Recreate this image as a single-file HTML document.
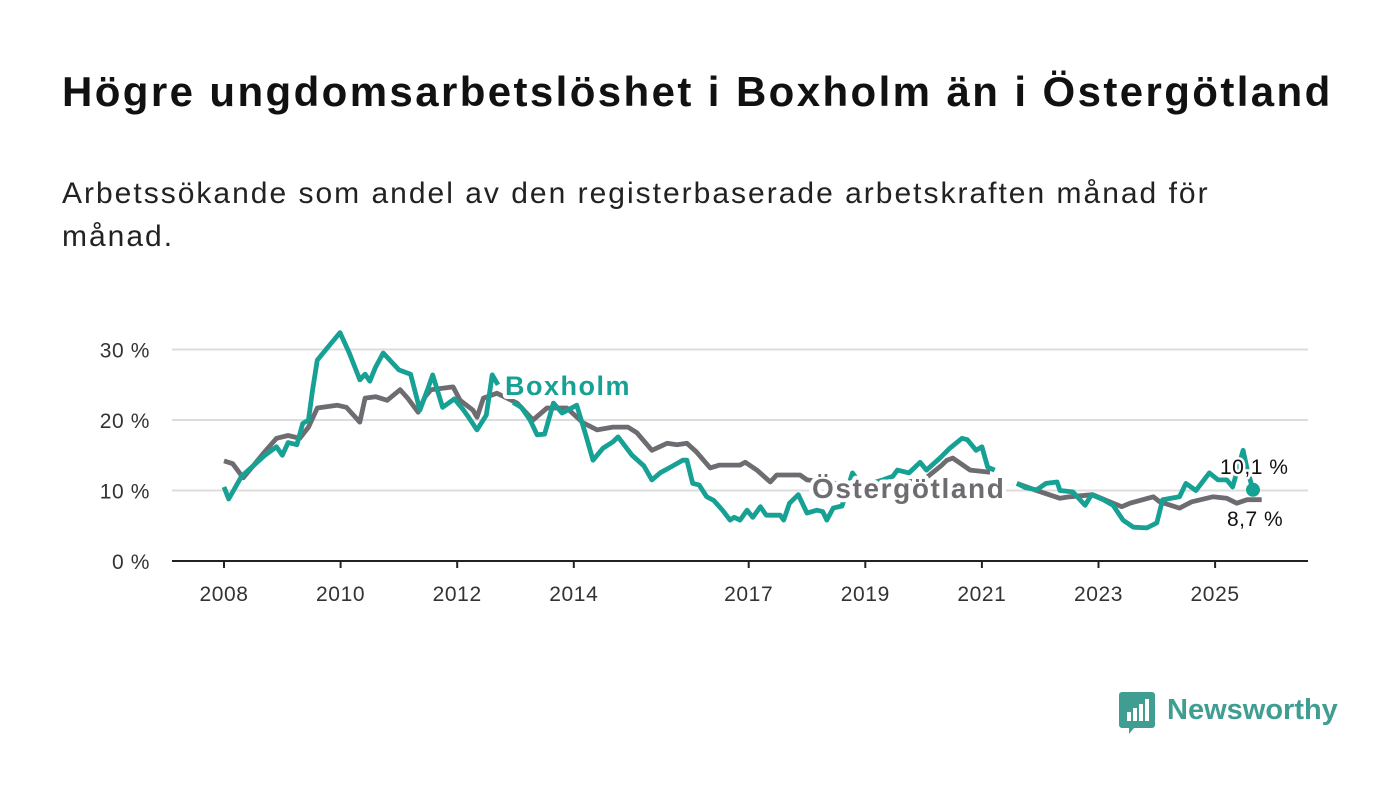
<!DOCTYPE html>
<html><head><meta charset="utf-8"><style>
body{margin:0;background:#fff;width:1400px;height:794px;overflow:hidden;font-family:"Liberation Sans",sans-serif}
#title{position:absolute;left:62px;top:68px;font-size:42px;font-weight:bold;color:#111;margin:0;letter-spacing:2.4px;white-space:nowrap}
#sub{position:absolute;left:62px;top:172px;font-size:30px;color:#222;line-height:43px;width:1190px;letter-spacing:2px}
svg{position:absolute;left:0;top:0}
</style></head><body>
<h1 id="title">Högre ungdomsarbetslöshet i Boxholm än i Östergötland</h1>
<div id="sub">Arbetssökande som andel av den registerbaserade arbetskraften månad för månad.</div>
<svg id="chart" width="1400" height="794"></svg>
<script>
const yTicks=[0,10,20,30];
const yTickLabels=["0 %","10 %","20 %","30 %"];
const xTicks=[2008,2010,2012,2014,2017,2019,2021,2023,2025];
const boxT=[2008.0,2008.08,2008.3,2008.5,2008.7,2008.9,2009.0,2009.1,2009.25,2009.35,2009.45,2009.52,2009.6,2009.75,2009.9,2009.99,2010.15,2010.33,2010.42,2010.5,2010.6,2010.73,2010.9,2011.0,2011.2,2011.36,2011.5,2011.58,2011.75,2011.95,2012.1,2012.17,2012.34,2012.5,2012.6,2012.7];
const boxV=[10.5,8.8,12,13.5,15,16.2,15,16.8,16.5,19.5,20,24.3,28.5,30,31.5,32.4,29.5,25.7,26.5,25.5,27.5,29.5,28,27.1,26.5,21.4,24.5,26.4,21.8,23,21.5,20.7,18.6,20.7,26.4,25];
const boxT2=[2012.96,2013.1,2013.25,2013.37,2013.5,2013.65,2013.8,2014.05,2014.2,2014.33,2014.5,2014.67,2014.76,2015.0,2015.2,2015.34,2015.48,2015.7,2015.87,2015.94,2016.04,2016.15,2016.28,2016.4,2016.55,2016.68,2016.75,2016.85,2016.97,2017.07,2017.2,2017.3,2017.54,2017.6,2017.7,2017.85,2018.0,2018.17,2018.27,2018.34,2018.45,2018.6,2018.78,2018.95,2019.1,2019.3,2019.47,2019.55,2019.75,2019.94,2020.05,2020.28,2020.45,2020.66,2020.75,2020.9,2021.0,2021.1,2021.22];
const boxV2=[22.5,21.8,20,17.9,18,22.4,21,22.1,18,14.3,16,16.9,17.6,15,13.5,11.5,12.5,13.5,14.3,14.3,11,10.8,9.1,8.6,7.2,5.8,6.2,5.8,7.2,6.2,7.7,6.5,6.5,5.8,8.2,9.4,6.8,7.2,7,5.8,7.5,7.8,12.5,10.5,11,11.5,12,12.9,12.5,14,12.9,14.6,16,17.4,17.2,15.7,16.2,13.3,12.9];
const boxT3=[2021.6,2021.75,2021.94,2022.1,2022.29,2022.34,2022.56,2022.77,2022.88,2023.08,2023.25,2023.42,2023.6,2023.83,2024.0,2024.1,2024.39,2024.5,2024.67,2024.9,2025.05,2025.2,2025.3,2025.48,2025.55,2025.65];
const boxV3=[11,10.4,10.1,11,11.2,10,9.8,7.9,9.4,8.7,7.9,5.8,4.8,4.7,5.4,8.7,9.1,11,10,12.5,11.5,11.5,10.5,15.7,13,10.1];
const ostT=[2008.0,2008.15,2008.33,2008.5,2008.7,2008.9,2009.1,2009.3,2009.45,2009.6,2009.94,2010.1,2010.33,2010.42,2010.6,2010.8,2011.02,2011.15,2011.33,2011.45,2011.55,2011.93,2012.05,2012.27,2012.34,2012.45,2012.68,2013.03,2013.3,2013.54,2013.88,2014.16,2014.4,2014.67,2014.93,2015.08,2015.34,2015.6,2015.77,2015.94,2016.1,2016.34,2016.5,2016.85,2016.94,2017.14,2017.37,2017.48,2017.88,2018.0,2018.5,2019.0,2019.5,2020.0,2020.3,2020.4,2020.5,2020.8,2021.14];
const ostV=[14.2,13.8,11.8,13.5,15.5,17.4,17.8,17.4,19,21.7,22.1,21.8,19.7,23.1,23.3,22.8,24.3,23.1,21.1,23.3,24.3,24.7,22.8,21.4,20.4,23.1,23.8,22.4,20,21.7,21.7,19.6,18.6,19,19,18.2,15.7,16.7,16.5,16.7,15.5,13.2,13.6,13.6,14,12.9,11.2,12.2,12.2,11.5,11,10.8,11,11.5,13.5,14.3,14.6,12.9,12.6];
const ostT2=[2021.6,2021.9,2022.34,2022.5,2022.9,2023.25,2023.4,2023.54,2023.94,2024.05,2024.39,2024.6,2024.96,2025.2,2025.37,2025.55,2025.8];
const ostV2=[11,10.1,8.9,9.1,9.4,8.2,7.7,8.2,9.1,8.4,7.5,8.4,9.1,8.9,8.2,8.7,8.7];

const svg=document.getElementById('chart');
const NS='http://www.w3.org/2000/svg';
const X=t=>224+(t-2008)*58.3;
const Y=v=>561-v*7.05;
function mk(tag,attrs,txt){const e=document.createElementNS(NS,tag);for(const k in attrs)e.setAttribute(k,attrs[k]);if(txt!=null)e.textContent=txt;svg.appendChild(e);return e;}
yTicks.forEach((v,i)=>{
  if(v>0){const g=mk('line',{x1:172,x2:1308,y1:Y(v),y2:Y(v),stroke:'#dcdcdc','stroke-width':2});
  
  }
  const t=mk('text',{x:150,y:Y(v)+8,'text-anchor':'end','font-size':21,'letter-spacing':0.6,fill:'#333'},yTickLabels[i]);
  
  
});
const ax=mk('line',{x1:172,x2:1308,y1:561,y2:561,stroke:'#222','stroke-width':2});


xTicks.forEach(yr=>{
  const tk=mk('line',{x1:X(yr),x2:X(yr),y1:561,y2:568,stroke:'#222','stroke-width':2});
  
  
  const t=mk('text',{x:X(yr),y:601,'text-anchor':'middle','font-size':21,'letter-spacing':0.6,fill:'#333'},String(yr));
  
  
});
function line(T,V,col,name){
  const d=T.map((t,i)=>(i?'L':'M')+X(t).toFixed(1)+','+Y(V[i]).toFixed(1)).join('');
  const p=mk('path',{d:d,fill:'none',stroke:col,'stroke-width':4.8,'stroke-linejoin':'round'});
  
  
}
const G='#6e6c70',T='#17a194';
line(ostT,ostV,G,'ostergotland-line');
line(ostT2,ostV2,G,'ostergotland-line');
line(boxT,boxV,T,'boxholm-line');
line(boxT2,boxV2,T,'boxholm-line');
line(boxT3,boxV3,T,'boxholm-line');
const lb=mk('text',{x:505,y:395,'font-size':27,'letter-spacing':1.5,'font-weight':'bold',fill:T,stroke:'#fff','stroke-width':8,'paint-order':'stroke','stroke-linejoin':'round'},'Boxholm');


const lo=mk('text',{x:812,y:498,'font-size':28,'letter-spacing':1.6,'font-weight':'bold',fill:G,stroke:'#fff','stroke-width':8,'paint-order':'stroke','stroke-linejoin':'round'},'Östergötland');


const dot=mk('circle',{cx:X(boxT3[boxT3.length-1]),cy:Y(boxV3[boxV3.length-1]),r:7,fill:T});


const v1=mk('text',{x:1220,y:474,'font-size':21,'letter-spacing':0.5,fill:'#111',stroke:'#fff','stroke-width':5,'paint-order':'stroke'},'10,1 %');


const v2=mk('text',{x:1227,y:526,'font-size':21,'letter-spacing':0.5,fill:'#111',stroke:'#fff','stroke-width':5,'paint-order':'stroke'},'8,7 %');


const lg=mk('g',{});


const r=document.createElementNS(NS,'path');
r.setAttribute('d','M1122,692h30a3,3 0 0 1 3,3v30a3,3 0 0 1 -3,3h-18l-5,6v-6h-7a3,3 0 0 1 -3,-3v-30a3,3 0 0 1 3,-3z');
r.setAttribute('fill','#3f9e91');lg.appendChild(r);
[[1127,712,4,11],[1133,708,4,15],[1139,704,4,19],[1145,699,4,24]].forEach(b=>{const e=document.createElementNS(NS,'rect');e.setAttribute('x',b[0]);e.setAttribute('y',b[1]);e.setAttribute('width',b[2]);e.setAttribute('height',b[3]-2);e.setAttribute('fill','#fff');lg.appendChild(e);});
const lt=mk('text',{x:1167,y:719,'font-size':29,'font-weight':'bold',fill:'#3f9e91'},'Newsworthy');


</script>
</body></html>
